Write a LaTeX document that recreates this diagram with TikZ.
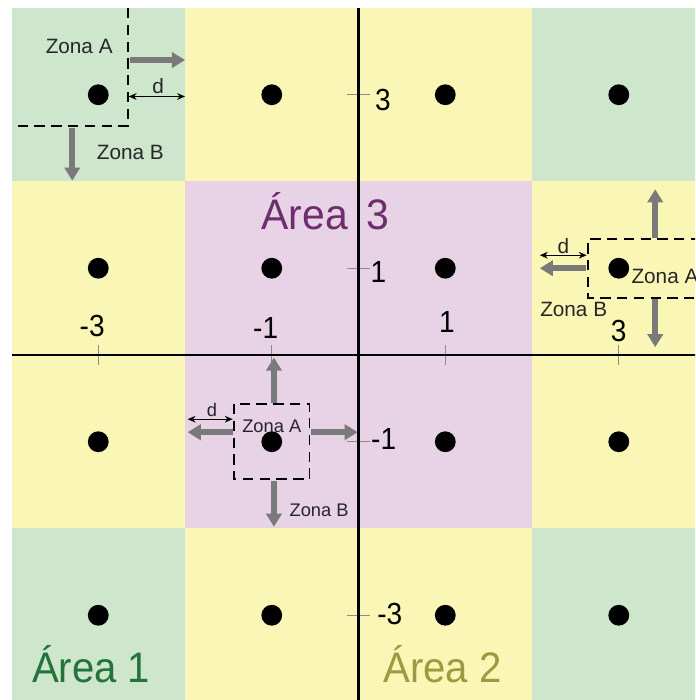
\documentclass[tikz,border=0pt]{standalone}
\usepackage{fontspec}
\setmainfont{Liberation Sans}
\usetikzlibrary{arrows.meta}
\definecolor{cgreen}{RGB}{205,230,204}
\definecolor{cyellow}{RGB}{250,247,182}
\definecolor{cpink}{RGB}{232,210,229}
\definecolor{agray}{RGB}{122,122,122}
\definecolor{tgreen}{RGB}{35,115,60}
\definecolor{tolive}{RGB}{155,155,65}
\definecolor{tpurple}{RGB}{110,45,110}
\begin{document}
\begin{tikzpicture}[x=1cm,y=1cm,
 dot/.style={circle,fill=black,inner sep=0pt,minimum size=0.24cm},
 zarrow/.style={draw=agray,line width=2.1pt,-{Triangle[width=5pt,length=4.3pt]}},
 dimarrow/.style={draw=black,line width=0.4pt,{Stealth[length=2.6pt,width=2.2pt]}-{Stealth[length=2.6pt,width=2.2pt]}},
 zone/.style={draw=black,line width=0.6pt,dash pattern=on 3.4pt off 2.1pt},
 zlabel/.style={inner sep=0pt,font=\fontsize{6.8}{8}\selectfont,text=black!85},
 zlabelsmall/.style={inner sep=0pt,font=\fontsize{6}{7}\selectfont,text=black!85},
 axlabel/.style={inner sep=0pt,font=\fontsize{10}{11}\selectfont,xscale=0.92},
 tickline/.style={draw=black!45,line width=0.4pt},
 areat/.style={inner sep=0pt,anchor=base west,font=\fontsize{14}{16}\selectfont,xscale=0.94}]
\useasboundingbox (-4.133,-3.977) rectangle (3.879,4.092);
\begin{scope}
\clip (-4.133,-3.977) rectangle (3.879,4.092);
% cells
\foreach \x/\y/\c in {-4/2/cgreen, -2/2/cyellow, 0/2/cyellow, 2/2/cgreen,
                      -4/0/cyellow, -2/0/cpink, 0/0/cpink, 2/0/cyellow,
                      -4/-2/cyellow, -2/-2/cpink, 0/-2/cpink, 2/-2/cyellow,
                      -4/-4/cgreen, -2/-4/cyellow, 0/-4/cyellow, 2/-4/cgreen}
  \fill[\c] (\x,\y) rectangle ++(2,2);
% ticks
\foreach \t in {-3,-1,1,3} {
  \draw[tickline] (\t,-0.115) -- (\t,0.115);
  \draw[tickline] (-0.13,\t) -- (0.13,\t);
}
% axes
\coordinate (axL) at (-4,0);
\coordinate (axR) at (3.95,0);
\coordinate (axT) at (0,4.0);
\coordinate (axB) at (0,-4.05);
\draw[line width=0.9pt] (axL) -- (axR);
\draw[line width=0.9pt] (axT) -- (axB);
% dots
\foreach \i/\x in {a/-3,b/-1,c/1,d/3}
  \foreach \j/\y in {a/-3,b/-1,c/1,d/3}
    \node[dot] (p\i\j) at (\x,\y) {};
% axis labels
\node[axlabel] (hm3) at (-3.07,0.33) {-3};
\node[axlabel] (hm1) at (-1.07,0.31) {-1};
\node[axlabel] (hp1) at (1.02,0.38) {1};
\node[axlabel] (hp3) at (3.0,0.28) {3};
\node[axlabel] (vp3) at (0.28,2.94) {3};
\node[axlabel] (vp1) at (0.23,0.96) {1};
\node[axlabel] (vm1) at (0.29,-0.97) {-1};
\node[axlabel] (vm3) at (0.36,-2.99) {-3};
% area labels
\node[areat,text=tgreen] (ar1) at (-3.77,-3.78) {Área 1};
\node[areat,text=tolive] (ar2) at (0.28,-3.77) {Área 2};
\node[areat,text=tpurple,xscale=1.02] (ar3) at (-1.125,1.45) {Área\hspace{0.09cm} 3};
% top-left zone
\coordinate (tlz1) at (-2.657,4.0);
\coordinate (tlz2) at (-2.657,2.64);
\coordinate (tlz3) at (-4.0,2.64);
\draw[zone] (tlz1) -- (tlz2) -- (tlz3);
\coordinate (tlr0) at (-2.635,3.40);
\coordinate (tlr1) at (-2.0,3.40);
\draw[zarrow] (tlr0) -- (tlr1);
\coordinate (tld0) at (-3.30,2.62);
\coordinate (tld1) at (-3.30,2.01);
\draw[zarrow] (tld0) -- (tld1);
\coordinate (tlm0) at (-2.65,2.98);
\coordinate (tlm1) at (-2.0,2.98);
\draw[dimarrow] (tlm0) -- (tlm1);
\node[zlabel] (tlA) at (-3.22,3.56) {Zona A};
\node[zlabel] (tlB) at (-2.63,2.34) {Zona B};
\node[zlabel] (tld) at (-2.31,3.10) {d};
% right zone
\coordinate (rz1) at (3.95,1.337);
\coordinate (rz2) at (2.645,1.337);
\coordinate (rz3) at (2.645,0.657);
\coordinate (rz4) at (3.95,0.657);
\draw[zone] (rz1) -- (rz2) -- (rz3) -- (rz4);
\coordinate (ru0) at (3.42,1.35);
\coordinate (ru1) at (3.42,1.91);
\draw[zarrow] (ru0) -- (ru1);
\coordinate (rd0) at (3.42,0.64);
\coordinate (rd1) at (3.42,0.09);
\draw[zarrow] (rd0) -- (rd1);
\coordinate (rl0) at (2.62,1.0);
\coordinate (rl1) at (2.09,1.0);
\draw[zarrow] (rl0) -- (rl1);
\coordinate (rm0) at (2.09,1.15);
\coordinate (rm1) at (2.63,1.15);
\draw[dimarrow] (rm0) -- (rm1);
\node[zlabel] (rdl) at (2.36,1.26) {d};
\node[zlabel,anchor=west] (rA) at (3.14,0.90) {Zona A};
\node[zlabel] (rB) at (2.48,0.52) {Zona B};
% middle zone
\coordinate (mz1) at (-1.435,-0.565);
\coordinate (mz2) at (-0.565,-1.43);
\draw[zone] (mz1) rectangle (mz2);
\coordinate (mu0) at (-0.975,-0.55);
\coordinate (mu1) at (-0.975,-0.03);
\draw[zarrow] (mu0) -- (mu1);
\coordinate (md0) at (-0.975,-1.45);
\coordinate (md1) at (-0.975,-1.98);
\draw[zarrow] (md0) -- (md1);
\coordinate (mr0) at (-0.55,-0.89);
\coordinate (mr1) at (-0.01,-0.89);
\draw[zarrow] (mr0) -- (mr1);
\coordinate (ml0) at (-1.45,-0.89);
\coordinate (ml1) at (-1.97,-0.89);
\draw[zarrow] (ml0) -- (ml1);
\coordinate (mm0) at (-1.97,-0.74);
\coordinate (mm1) at (-1.45,-0.74);
\draw[dimarrow] (mm0) -- (mm1);
\node[zlabelsmall] (mdl) at (-1.69,-0.63) {d};
\node[zlabelsmall] (mA) at (-1.0,-0.82) {Zona A};
\node[zlabelsmall] (mB) at (-0.455,-1.79) {Zona B};
\end{scope}
\end{tikzpicture}
\end{document}
